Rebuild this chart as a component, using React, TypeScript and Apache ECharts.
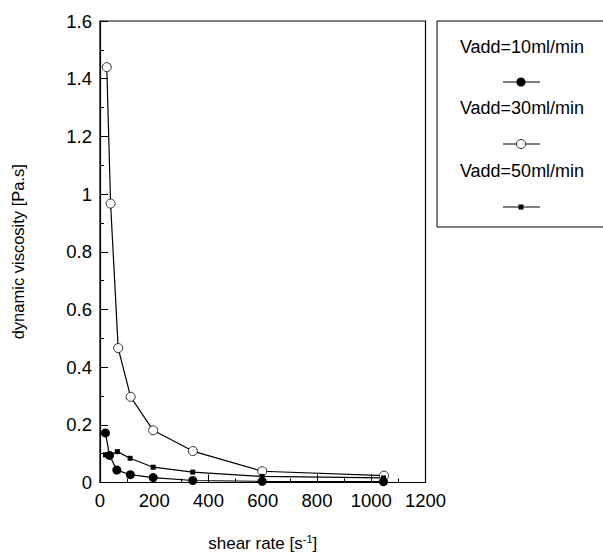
import React, { useEffect, useRef } from "react";
import * as echarts from "echarts";

const seriesNames = ["Vadd=10ml/min", "Vadd=30ml/min", "Vadd=50ml/min"];
const shear10 = [20, 35, 62, 112, 196, 342, 598, 1045];
const visc10 = [0.172, 0.094, 0.043, 0.027, 0.017, 0.007, 0.004, 0.003];
const shear30 = [25, 39, 67, 113, 196, 342, 598, 1047];
const visc30 = [1.44, 0.967, 0.466, 0.297, 0.181, 0.109, 0.039, 0.024];
const shear50 = [20, 35, 64, 111, 196, 342, 598, 1045];
const visc50 = [0.096, 0.095, 0.107, 0.084, 0.053, 0.036, 0.021, 0.016];

const FONT = "Liberation Sans, Arial, Helvetica, sans-serif";

const zip = (xs: number[], ys: number[]) => xs.map((x, i) => [x, ys[i]]);

export default function App() {
  const ref = useRef<HTMLDivElement>(null);
  useEffect(() => {
    if (!ref.current) return;
    const chart = echarts.init(ref.current, null, { renderer: "svg" });
    const legendY = [
      { text: 47, mark: 82 },
      { text: 108, mark: 144 },
      { text: 171, mark: 207 },
    ];
    const legendGraphics: any[] = [
      {
        type: "rect",
        shape: { x: 437, y: 21, width: 190, height: 206 },
        style: { fill: "none", stroke: "#000", lineWidth: 1 },
      },
    ];
    seriesNames.forEach((name, i) => {
      legendGraphics.push({
        type: "text",
        x: 522,
        y: legendY[i].text,
        style: {
          text: name,
          font: `18px ${FONT}`,
          fill: "#000",
          align: "center",
          verticalAlign: "middle",
        },
      });
      legendGraphics.push({
        type: "line",
        shape: { x1: 503, y1: legendY[i].mark, x2: 540, y2: legendY[i].mark },
        style: { stroke: "#000", lineWidth: 1 },
      });
      if (i === 0) {
        legendGraphics.push({
          type: "circle",
          shape: { cx: 521, cy: legendY[i].mark, r: 4.5 },
          style: { fill: "#000" },
        });
      } else if (i === 1) {
        legendGraphics.push({
          type: "circle",
          shape: { cx: 521, cy: legendY[i].mark, r: 4.5 },
          style: { fill: "#fff", stroke: "#000", lineWidth: 0.8 },
        });
      } else {
        legendGraphics.push({
          type: "rect",
          shape: { x: 518.5, y: legendY[i].mark - 2.5, width: 5, height: 5 },
          style: { fill: "#000" },
        });
      }
    });

    const axisCommon = {
      axisLine: { show: true, lineStyle: { color: "#000", width: 1.2 } },
      axisTick: { show: true, inside: true, length: 8, lineStyle: { color: "#000" } },
      minorTick: { show: true, splitNumber: 2, length: 4, lineStyle: { color: "#000" } },
      splitLine: { show: false },
      axisLabel: { color: "#000", fontSize: 18.5, fontFamily: FONT, margin: 8 },
      nameTextStyle: { color: "#000", fontSize: 16.5, fontFamily: FONT },
    };

    chart.setOption({
      animation: false,
      backgroundColor: "#fff",
      textStyle: { fontFamily: FONT },
      grid: {
        left: 100,
        top: 21,
        right: 177.5,
        bottom: 72.5,
        outerBoundsMode: "none",
        containLabel: false,
        show: true,
        borderColor: "#000",
        borderWidth: 1.2,
        backgroundColor: "transparent",
      },
      xAxis: {
        type: "value",
        min: 0,
        max: 1200,
        interval: 200,
        name: "shear rate [s{sup|-1}]",
        nameLocation: "middle",
        nameGap: 51,
        ...axisCommon,
        axisLabel: { ...axisCommon.axisLabel, formatter: (v: number) => String(v) },
        nameTextStyle: {
          ...axisCommon.nameTextStyle,
          fontSize: 17,
          lineHeight: 19,
          rich: {
            sup: { fontSize: 11, verticalAlign: "top", lineHeight: 12, fontFamily: FONT, color: "#000" },
          },
        },
      },
      yAxis: {
        type: "value",
        min: 0,
        max: 1.6,
        interval: 0.2,
        name: "dynamic viscosity [Pa.s]",
        nameLocation: "middle",
        nameGap: 74,
        ...axisCommon,
        axisLabel: { ...axisCommon.axisLabel, formatter: (v: number) => String(Math.round(v * 10) / 10) },
      },
      series: [
        {
          name: seriesNames[0],
          type: "line",
          data: zip(shear10, visc10),
          symbol: "circle",
          symbolSize: 9,
          itemStyle: { color: "#000" },
          lineStyle: { color: "#000", width: 1.2 },
          z: 4,
        },
        {
          name: seriesNames[1],
          type: "line",
          data: zip(shear30, visc30),
          symbol: "circle",
          symbolSize: 9,
          itemStyle: { color: "#fff", borderColor: "#000", borderWidth: 0.8 },
          lineStyle: { color: "#000", width: 1.2 },
          z: 3,
        },
        {
          name: seriesNames[2],
          type: "line",
          data: zip(shear50, visc50),
          symbol: "rect",
          symbolSize: 5,
          itemStyle: { color: "#000" },
          lineStyle: { color: "#000", width: 1.2 },
          z: 3,
        },
      ],
      graphic: legendGraphics,
    });
    return () => chart.dispose();
  }, []);
  return (
    <div
      ref={ref}
      style={{ position: "fixed", left: 0, top: 0, width: 603, height: 555, background: "#fff" }}
    />
  );
}
